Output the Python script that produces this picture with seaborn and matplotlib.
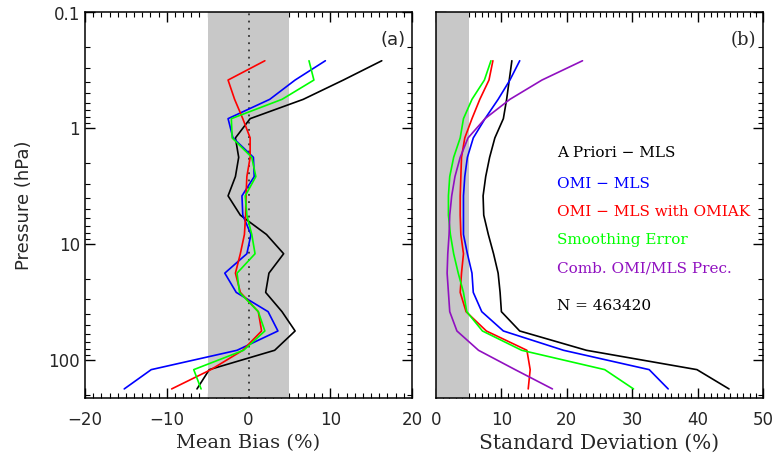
import numpy as np
import pandas as pd
import seaborn as sns
import matplotlib.pyplot as plt
from matplotlib.ticker import MultipleLocator, LogLocator, FixedLocator, FixedFormatter, NullFormatter

# pressure levels (hPa), top to bottom
pressure = [0.261, 0.383, 0.562, 0.825, 1.21, 1.78, 2.61, 3.83, 5.62,
            8.25, 12.1, 17.8, 26.1, 38.3, 56.2, 82.5, 121.2, 177.8]

# panel (a) mean bias (%)
bias_apriori = [16.3, 11.6, 6.7, 0.2, -1.6, -1.2, -1.6, -2.5, -1.0,
                2.2, 4.3, 2.5, 2.1, 4.1, 5.7, 3.2, -4.8, -6.3]
bias_omi = [9.4, 5.7, 2.6, -2.5, -1.9, 0.6, 0.7, -0.8, -0.7,
            0.3, -0.2, -2.9, -1.5, 2.4, 3.6, -1.4, -11.9, -15.2]
bias_omiak = [2.0, -2.5, -1.7, -0.7, 0.2, 0.2, -0.2, -0.3, -0.35,
              -0.5, -1.0, -1.6, -1.0, 1.2, 1.6, -0.7, -4.6, -9.4]
bias_smooth = [7.4, 8.0, 4.1, -2.1, -2.0, 0.4, 0.9, -0.4, -0.2,
               0.4, 0.8, -1.4, -1.1, 1.2, 2.0, -0.6, -6.7, -5.8]

# panel (b) standard deviation (%)
std_apriori = [11.6, 11.2, 10.8, 10.3, 9.0, 8.2, 7.6, 7.2, 7.3,
               8.0, 8.8, 9.5, 9.8, 10.0, 12.8, 23.0, 39.9, 44.8]
std_omi = [12.8, 11.3, 9.5, 7.5, 5.7, 4.8, 4.4, 4.2, 4.2,
           4.2, 4.8, 5.5, 5.7, 7.0, 10.3, 19.5, 32.6, 35.5]
std_omiak = [8.7, 8.1, 6.7, 5.5, 4.4, 3.9, 3.8, 3.7, 3.7,
             3.8, 4.2, 3.9, 3.7, 4.6, 7.7, 13.9, 14.4, 14.1]
std_smooth = [8.4, 7.4, 5.5, 4.2, 3.7, 2.7, 2.1, 1.9, 1.9,
              2.2, 2.7, 3.4, 4.2, 4.7, 7.1, 13.1, 25.8, 30.2]
std_prec = [22.4, 16.2, 11.3, 7.5, 4.9, 3.7, 2.9, 2.4, 2.1,
            2.0, 1.8, 1.7, 1.9, 2.1, 3.2, 6.5, 12.1, 17.8]

names = ['A Priori \u2212 MLS', 'OMI \u2212 MLS', 'OMI \u2212 MLS with OMIAK',
         'Smoothing Error', 'Comb. OMI/MLS Prec.']
colors = ['black', '#0000ff', '#ff0000', '#00ff00', '#9010c0']

bias_df = pd.concat([pd.DataFrame({'p': pressure, 'val': v, 'name': n})
                     for v, n in zip([bias_apriori, bias_omi, bias_omiak, bias_smooth], names[:4])])
std_df = pd.concat([pd.DataFrame({'p': pressure, 'val': v, 'name': n})
                    for v, n in zip([std_apriori, std_omi, std_omiak, std_smooth, std_prec], names)])

sns.set_style('ticks')
plt.rcParams['font.family'] = ['DejaVu Sans']

fig = plt.figure(figsize=(7.74, 4.61), dpi=100)
ax1 = fig.add_axes([85 / 774, 63 / 461, 327 / 774, 385.5 / 461])
ax2 = fig.add_axes([436 / 774, 63 / 461, 327 / 774, 385.5 / 461])

palette = dict(zip(names, colors))

for ax, df in [(ax1, bias_df), (ax2, std_df)]:
    sns.lineplot(data=df, x='val', y='p', hue='name', palette=palette, sort=False,
                 estimator=None, orient='y', lw=1.2, ax=ax, legend=False)
    ax.set_yscale('log')
    ax.set_axisbelow(True)
    ax.tick_params(which='both', direction='in', top=True, right=True, color='black')
    ax.tick_params(which='major', length=7, width=1, labelsize=12)
    ax.tick_params(axis='x', which='major', pad=9)
    ax.tick_params(which='minor', length=3.5, width=0.8)
    ax.yaxis.set_major_locator(FixedLocator([0.1, 1, 10, 100]))
    ax.yaxis.set_minor_locator(LogLocator(base=10, subs=np.arange(2, 10)))
    ax.yaxis.set_minor_formatter(NullFormatter())
    ax.xaxis.set_major_locator(MultipleLocator(10))
    ax.xaxis.set_minor_locator(MultipleLocator(1))
    for s in ax.spines.values():
        s.set_linewidth(1.1)
        s.set_color('black')
    ax.set_ylabel('')
    ax.set_ylim(213.0, 0.1)

ax1.yaxis.set_major_formatter(FixedFormatter(['0.1', '1', '10', '100']))
ax2.yaxis.set_major_formatter(NullFormatter())

ax1.axvspan(-5, 5, color='#c8c8c8', zorder=1, lw=0)
ax1.axvline(0, color='#333333', ls=(0, (1, 3)), lw=1.3, zorder=1.5)
ax1.set_xlim(-20, 20)
ax1.set_ylabel('Pressure (hPa)', fontsize=13, labelpad=11)
ax1.set_xlabel('Mean Bias (%)', fontsize=14, family='DejaVu Serif', labelpad=4)
ax1.set_xticks([-20, -10, 0, 10, 20])
ax1.set_xticklabels(['\u221220', '\u221210', '0', '10', '20'])
ax1.text(0.979, 0.929, '(a)', transform=ax1.transAxes, ha='right', va='center', fontsize=13)

ax2.axvspan(0, 5, color='#c8c8c8', zorder=1, lw=0)
ax2.set_xlim(0, 50)
ax2.set_xlabel('Standard Deviation (%)', fontsize=14.5, family='DejaVu Serif', labelpad=4)
ax2.text(0.979, 0.929, '(b)', transform=ax2.transAxes, ha='right', va='center', fontsize=13,
         family='DejaVu Serif')

leg_y = [153, 184, 212, 240, 269]
for n, c, yy in zip(names, colors, leg_y):
    ax2.text((557 - 436) / 327, 1 - (yy - 12.5) / 385.5, n, color=c, transform=ax2.transAxes,
             fontsize=11, family='DejaVu Serif', va='center', ha='left')
ax2.text((557 - 436) / 327, 1 - (306 - 12.5) / 385.5, 'N = 463420', color='black',
         transform=ax2.transAxes, fontsize=11, family='DejaVu Serif', va='center', ha='left')

fig.savefig('out.png', dpi=100)
